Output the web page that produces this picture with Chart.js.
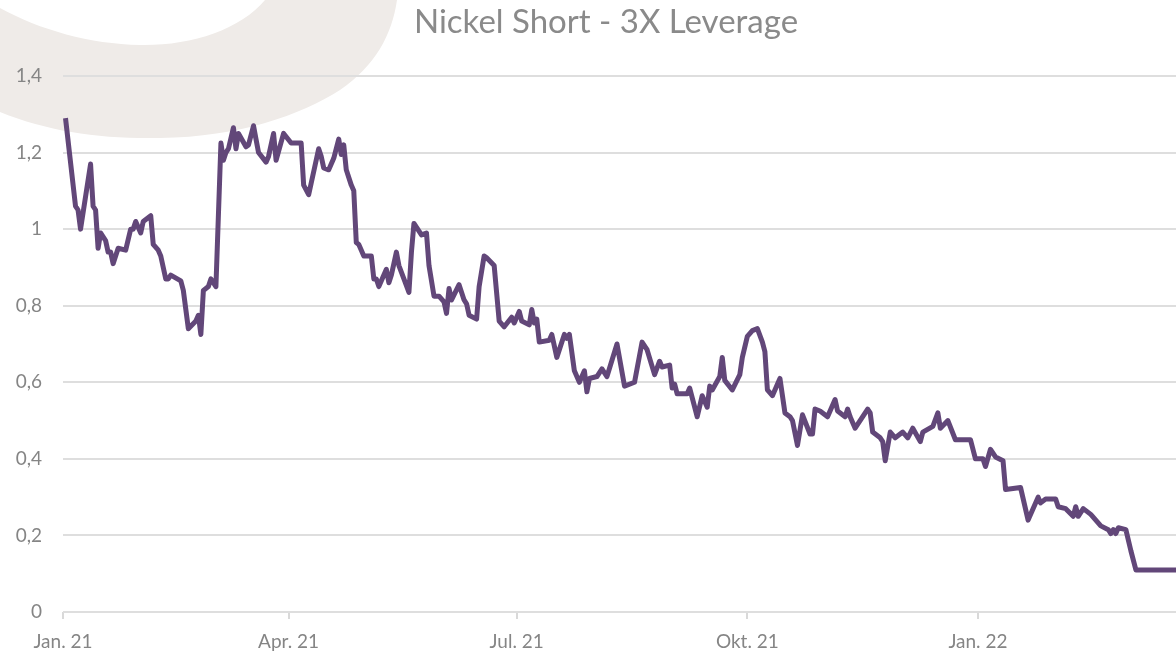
<!DOCTYPE html>
<html>
<head>
<meta charset="utf-8">
<script src="https://cdn.jsdelivr.net/npm/chart.js@4/dist/chart.umd.min.js"></script>
<style>
  html, body { margin: 0; padding: 0; background: #fff; }
  #wrap { width: 1176px; height: 653px; position: relative; }
</style>
</head>
<body>
<div id="wrap"><canvas id="nickel_short"></canvas></div>
<script>
// days since 1 Jan 2021
var days = [
  1,5,6,7,11,12,13,14,15,17,
  18,19,20,22,25,27,28,29,31,32,
  35,36,38,39,41,42,43,47,48,50,
  53,54,55,56,58,59,61,63,64,65,
  66,68,69,70,73,74,76,77,78,81,
  82,84,85,88,91,95,96,98,99,102,
  103,104,106,108,110,111,112,113,115,116,
  117,118,120,123,124,125,126,129,130,131,
  133,134,136,138,139,140,143,145,146,148,
  150,152,153,154,155,158,160,161,162,165,
  166,168,169,172,174,176,179,180,182,183,
  186,187,188,189,190,194,195,197,200,201,
  202,204,206,208,209,210,213,215,217,221,
  224,228,231,233,236,238,239,242,243,244,
  245,249,250,253,255,257,258,259,262,263,
  264,267,270,271,273,275,277,279,280,281,
  283,286,288,290,291,293,295,298,299,300,
  302,305,306,308,309,312,313,314,316,321,
  322,323,326,327,328,330,332,335,337,339,
  342,343,347,349,350,353,356,362,364,367,
  368,370,372,375,376,382,385,389,390,392,
  396,397,400,403,404,405,407,410,414,417,
  418,419,420,421,424,426,428,444
];
var prices = [
  1.29,1.06,1.05,1.00,1.17,1.06,1.05,0.95,0.99,0.97,
  0.94,0.94,0.91,0.95,0.945,1.00,1.00,1.02,0.99,1.02,
  1.035,0.96,0.945,0.93,0.87,0.87,0.88,0.865,0.84,0.74,
  0.76,0.775,0.725,0.84,0.85,0.87,0.85,1.225,1.18,1.20,
  1.21,1.265,1.21,1.25,1.215,1.22,1.27,1.235,1.20,1.175,
  1.19,1.25,1.18,1.25,1.225,1.225,1.115,1.09,1.12,1.21,
  1.19,1.16,1.155,1.185,1.235,1.195,1.22,1.155,1.115,1.10,
  0.965,0.96,0.93,0.93,0.87,0.87,0.85,0.895,0.86,0.88,
  0.94,0.905,0.87,0.835,0.94,1.015,0.985,0.99,0.905,0.825,
  0.825,0.81,0.78,0.845,0.815,0.855,0.815,0.805,0.775,0.765,
  0.85,0.93,0.925,0.905,0.76,0.745,0.77,0.755,0.785,0.76,
  0.75,0.79,0.755,0.765,0.705,0.71,0.725,0.665,0.725,0.715,
  0.725,0.63,0.60,0.63,0.575,0.61,0.615,0.635,0.615,0.70,
  0.59,0.60,0.705,0.685,0.62,0.655,0.64,0.645,0.585,0.595,
  0.57,0.57,0.585,0.51,0.565,0.535,0.59,0.58,0.615,0.665,
  0.605,0.58,0.62,0.665,0.72,0.735,0.74,0.705,0.68,0.58,
  0.565,0.61,0.52,0.51,0.50,0.435,0.515,0.465,0.465,0.53,
  0.525,0.51,0.525,0.555,0.525,0.51,0.53,0.51,0.48,0.53,
  0.52,0.47,0.455,0.445,0.395,0.47,0.455,0.47,0.455,0.48,
  0.445,0.47,0.485,0.52,0.48,0.50,0.45,0.45,0.40,0.40,
  0.38,0.425,0.405,0.395,0.32,0.325,0.24,0.30,0.285,0.295,
  0.295,0.275,0.27,0.25,0.275,0.25,0.27,0.255,0.225,0.215,
  0.205,0.215,0.205,0.22,0.215,0.16,0.11,0.11
];
var tickDays = [0, 90, 181, 273, 365];
var tickLabels = ['Jan. 21', 'Apr. 21', 'Jul. 21', 'Okt. 21', 'Jan. 22'];
var chartTitle = 'Nickel Short - 3X Leverage';

var points = days.map(function (d, i) { return { x: d, y: prices[i] }; });

// light beige swoosh in the top left corner + the title above it
var decor = {
  id: 'decor',
  beforeDraw: function (chart) {
    var c = chart.ctx;
    c.save();
    c.fillStyle = '#efebe8';
    c.beginPath();
    c.moveTo(0, 112);
    c.bezierCurveTo(50, 132, 100, 139, 160, 138);
    c.bezierCurveTo(240, 137, 300, 115, 340, 90);
    c.bezierCurveTo(375, 66, 392, 35, 397, 0);
    c.lineTo(265, 0);
    c.bezierCurveTo(240, 30, 190, 46, 140, 45);
    c.bezierCurveTo(90, 44, 40, 30, 0, 8);
    c.closePath();
    c.fill();
    c.restore();
  },
  afterDraw: function (chart) {
    var c = chart.ctx;
    c.save();
    c.fillStyle = '#8a8a8a';
    c.font = '33px Lato';
    c.textAlign = 'center';
    c.textBaseline = 'middle';
    c.fillText(chartTitle, 606, 22);
    c.restore();
  }
};

var ctx = document.getElementById('nickel_short');
var chart = new Chart(ctx, {
  type: 'line',
  data: {
    datasets: [{
      data: points,
      borderColor: '#624779',
      borderWidth: 5,
      borderJoinStyle: 'round',
      pointRadius: 0,
      tension: 0,
      fill: false
    }]
  },
  plugins: [decor],
  options: {
    responsive: true,
    maintainAspectRatio: false,
    animation: false,
    layout: { padding: { left: 0, right: 0, top: 76, bottom: 0 } },
    plugins: {
      legend: { display: false },
      tooltip: { enabled: false },
      title: { display: false }
    },
    scales: {
      x: {
        type: 'linear',
        min: 0,
        max: 444,
        afterBuildTicks: function (axis) {
          axis.ticks = tickDays.map(function (v) { return { value: v }; });
        },
        afterFit: function (axis) { axis.height = 41; },
        ticks: {
          autoSkip: false,
          maxRotation: 0,
          padding: 11,
          color: '#858585',
          font: { family: 'Lato', size: 19 },
          callback: function (v) {
            var i = tickDays.indexOf(v);
            return i >= 0 ? tickLabels[i] : '';
          }
        },
        grid: { drawOnChartArea: false, color: '#d9d9d9', lineWidth: 2, tickLength: 7 },
        border: { display: false }
      },
      y: {
        min: 0,
        max: 1.4,
        afterFit: function (axis) { axis.width = 63; },
        ticks: {
          stepSize: 0.2,
          padding: 21,
          color: '#858585',
          font: { family: 'Lato', size: 19 },
          callback: function (v) { return String(Number(v.toFixed(1))).replace('.', ','); }
        },
        grid: { color: '#dedede', lineWidth: 2, drawTicks: false },
        border: { display: false }
      }
    }
  }
});
</script>
</body>
</html>
